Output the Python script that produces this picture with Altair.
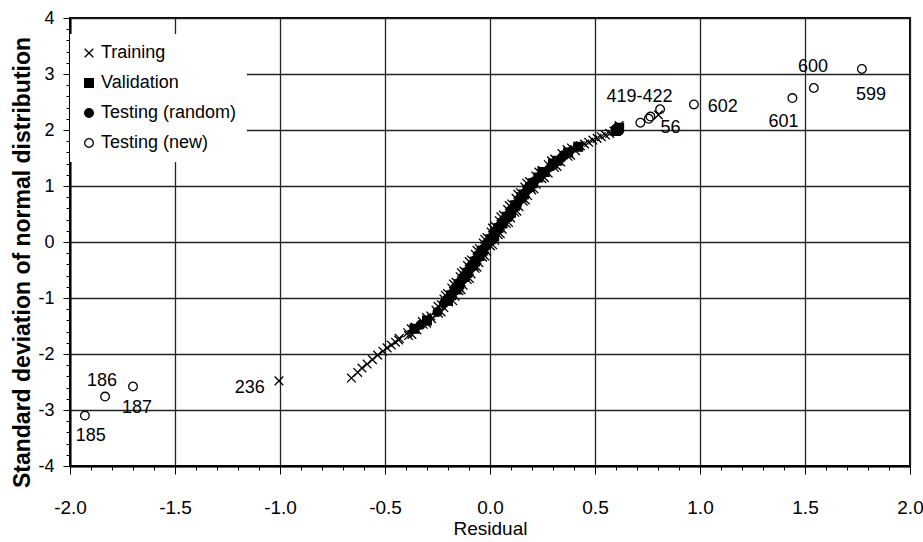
import altair as alt
import pandas as pd

# ---- data ----
train_x = [-0.66, -0.63, -0.61, -0.585, -0.56, -0.535, -0.51, -0.49, -0.47, -0.45, -0.435,
           -0.432, -0.388, -0.392, -0.348, -0.357, -0.318, -0.322, -0.278, -0.282, -0.246,
           -0.257, -0.220, -0.232, -0.198, -0.219, -0.166, -0.202, -0.148, -0.182, -0.128,
           -0.162, -0.108, -0.142, -0.090, -0.124, -0.071, -0.107, -0.053, -0.088, -0.035,
           -0.070, -0.016, -0.050, 0.002, -0.032, 0.022, -0.014, 0.039, 0.005, 0.058,
           0.024, 0.078, 0.044, 0.098, 0.064, 0.118, 0.084, 0.138, 0.104, 0.158,
           0.124, 0.179, 0.145, 0.199, 0.166, 0.220, 0.188, 0.247, 0.218, 0.277,
           0.248, 0.307, 0.278, 0.337, 0.308, 0.372, 0.343, 0.407, 0.388,
           0.43, 0.45, 0.47, 0.49, 0.51, 0.53, 0.55, 0.57, 0.59, 0.61, 0.615,
           0.802, -1.005,
           -0.372, -0.375, -0.302, -0.302, -0.233, -0.247, -0.177, -0.213, -0.138, -0.174,
           -0.098, -0.136, -0.062, -0.099, -0.025, -0.062, 0.013, -0.025, 0.049, 0.012,
           0.088, 0.052, 0.128, 0.092, 0.168, 0.133, 0.209, 0.175, 0.259, 0.233,
           0.319, 0.293, 0.384, 0.367]
train_y = [-2.43, -2.33, -2.25, -2.18, -2.10, -2.02, -1.95, -1.89, -1.84, -1.79, -1.75,
           -1.72, -1.67, -1.62, -1.57, -1.52, -1.47, -1.42, -1.37, -1.32, -1.27,
           -1.22, -1.17, -1.12, -1.07, -1.02, -0.97, -0.92, -0.87, -0.82, -0.77,
           -0.72, -0.67, -0.62, -0.57, -0.52, -0.47, -0.42, -0.37, -0.32, -0.27,
           -0.22, -0.17, -0.12, -0.07, -0.02, 0.03, 0.08, 0.13, 0.18, 0.23,
           0.28, 0.33, 0.38, 0.43, 0.48, 0.53, 0.58, 0.63, 0.68, 0.73,
           0.78, 0.83, 0.88, 0.93, 0.98, 1.03, 1.08, 1.13, 1.18, 1.23,
           1.28, 1.33, 1.38, 1.43, 1.48, 1.53, 1.58, 1.63, 1.68,
           1.72, 1.75, 1.78, 1.82, 1.85, 1.88, 1.91, 1.94, 1.98, 2.02, 2.08,
           2.27, -2.48,
           -1.65, -1.55, -1.45, -1.35, -1.25, -1.15, -1.05, -0.95, -0.85, -0.75,
           -0.65, -0.55, -0.45, -0.35, -0.25, -0.15, -0.05, 0.05, 0.15, 0.25,
           0.35, 0.45, 0.55, 0.65, 0.75, 0.85, 0.95, 1.05, 1.15, 1.25,
           1.35, 1.45, 1.55, 1.65]

val_x = [0.600, 0.610, 0.615, 0.605, -0.15, 0.12, 0.25, -0.05,
         -0.20, -0.16, -0.12, -0.08, -0.04, 0.02, 0.06, 0.10, 0.15, 0.19, 0.23, 0.30,
         -0.30, -0.36, 0.42,
         -0.185, -0.146, -0.108, -0.071, -0.034, 0.003, 0.040, 0.080, 0.120, 0.161,
         0.203, 0.261, 0.321, 0.372]
val_y = [1.98, 2.01, 2.04, 2.00, -0.78, 0.65, 1.25, -0.25,
         -1.05, -0.85, -0.62, -0.42, -0.18, 0.10, 0.33, 0.52, 0.80, 0.98, 1.15, 1.40,
         -1.40, -1.55, 1.70,
         -0.95, -0.75, -0.55, -0.35, -0.15, 0.05, 0.25, 0.45, 0.65, 0.85,
         1.05, 1.25, 1.45, 1.60]

rand_x = [-0.10, 0.05, 0.18, -0.22, 0.30, -0.25, -0.14, -0.06, 0.00, 0.09, 0.13, 0.21, 0.35, -0.33,
          -0.166, -0.126, -0.090, -0.053, -0.015, 0.021, 0.060, 0.100, 0.140, 0.181, 0.231, 0.291, 0.340]
rand_y = [-0.50, 0.30, 0.95, -1.10, 1.38, -1.25, -0.70, -0.30, 0.02, 0.45, 0.68, 1.08, 1.55, -1.48,
          -0.85, -0.65, -0.45, -0.25, -0.05, 0.15, 0.35, 0.55, 0.75, 0.95, 1.15, 1.35, 1.50]

new_x = [0.716, 0.756, 0.764, 0.810, 0.971, 1.44, 1.542, 1.771, -1.929, -1.833, -1.70]
new_y = [2.13, 2.20, 2.24, 2.37, 2.457, 2.57, 2.75, 3.09, -3.10, -2.76, -2.58]

label_text = ["419-422", "56", "602", "601", "600", "599", "185", "186", "187", "236"]
label_x = [0.712, 0.860, 1.108, 1.398, 1.538, 1.814, -1.901, -1.848, -1.681, -1.144]
label_y = [2.59, 2.04, 2.41, 2.14, 3.12, 2.63, -3.46, -2.49, -2.97, -2.61]

series_names = ["Training", "Validation", "Testing (random)", "Testing (new)"]

x_ticks = [round(-2.0 + 0.1 * i, 1) for i in range(41)]
y_ticks = [round(-4.0 + 0.2 * i, 1) for i in range(41)]

# ---- build tables ----
rows = []
for name, xs, ys in [("Training", train_x, train_y), ("Validation", val_x, val_y),
                     ("Testing (random)", rand_x, rand_y), ("Testing (new)", new_x, new_y)]:
    for a, b in zip(xs, ys):
        rows.append({"x": a, "y": b, "series": name})
pts = pd.DataFrame(rows)
labels = pd.DataFrame({"x": label_x, "y": label_y, "t": label_text})

FONT = "Liberation Sans"
x_major = "abs(datum.value*2 - round(datum.value*2)) < 1e-6"
y_major = "abs(datum.value - round(datum.value)) < 1e-6"

x_enc = alt.X("x:Q", scale=alt.Scale(domain=[-2, 2], nice=False, zero=False),
              axis=alt.Axis(values=x_ticks, tickCount=len(x_ticks), title="Residual",
                            labelExpr="(" + x_major + ") ? ((datum.value < 0 ? '-' : '') + format(abs(datum.value), '.1f')) : ''",
                            labelOverlap=False, labelFlush=False, labelFontSize=19,
                            tickSize={"condition": {"test": x_major, "value": 8}, "value": 4},
                            gridOpacity={"condition": {"test": x_major, "value": 1}, "value": 0},
                            labelPadding=24, titleFontSize=19,
                            titleX=420, titleY=62, titleAlign="center", titleBaseline="middle"))
y_enc = alt.Y("y:Q", scale=alt.Scale(domain=[-4, 4], nice=False, zero=False),
              axis=alt.Axis(values=y_ticks, tickCount=len(y_ticks),
                            title="Standard deviation of normal distribution",
                            labelExpr="(" + y_major + ") ? ('' + round(datum.value)) : ''",
                            labelOverlap=False, labelFlush=False,
                            tickSize={"condition": {"test": y_major, "value": 7}, "value": 4},
                            gridOpacity={"condition": {"test": y_major, "value": 1}, "value": 0},
                            labelPadding=9,
                            titleX=-48, titleY=244, titleAngle=270, titleAlign="center",
                            titleBaseline="middle", titleFontWeight="bold", titleFontSize=23))

points = alt.Chart(pts).mark_point(size=75, strokeWidth=1.3, opacity=1).encode(
    x=x_enc,
    y=y_enc,
    shape=alt.Shape("series:N",
                    scale=alt.Scale(domain=series_names,
                                    range=["M-1,-1L1,1M-1,1L1,-1", "square", "circle", "circle"]),
                    legend=alt.Legend(title=None)),
    fill=alt.Fill("series:N",
                  scale=alt.Scale(domain=series_names,
                                  range=["transparent", "black", "black", "transparent"]),
                  legend=alt.Legend(title=None)),
    stroke=alt.Stroke("series:N",
                      scale=alt.Scale(domain=series_names,
                                      range=["black", "black", "black", "black"]),
                      legend=alt.Legend(title=None)),
)

texts = alt.Chart(labels).mark_text(font=FONT, fontSize=18, color="black",
                                    align="center", baseline="middle").encode(
    x="x:Q", y="y:Q", text="t:N")

chart = alt.layer(points, texts).properties(
    width=840, height=448,
    padding={"left": 70, "top": 18, "right": 13, "bottom": 76},
    autosize=alt.AutoSizeParams(type="none"),
).configure_view(stroke="black", strokeWidth=2).configure_axis(
    labelFont=FONT, labelFontSize=18, labelColor="black",
    titleFont=FONT, titleFontSize=18, titleColor="black", titleFontWeight="normal",
    domainColor="black", domainWidth=2, tickColor="black", tickWidth=1,
    gridColor="#222222", gridWidth=1.3,
).configure_legend(
    orient="none", legendX=0, legendY=16, fillColor="white", padding=10,
    labelFont=FONT, labelFontSize=18, labelColor="black",
    symbolSize=75, symbolStrokeWidth=1.3, symbolStrokeColor="black",
    rowPadding=12, labelOffset=3,
)

chart.save("out.html", embed_options={"renderer": "svg", "actions": False})
